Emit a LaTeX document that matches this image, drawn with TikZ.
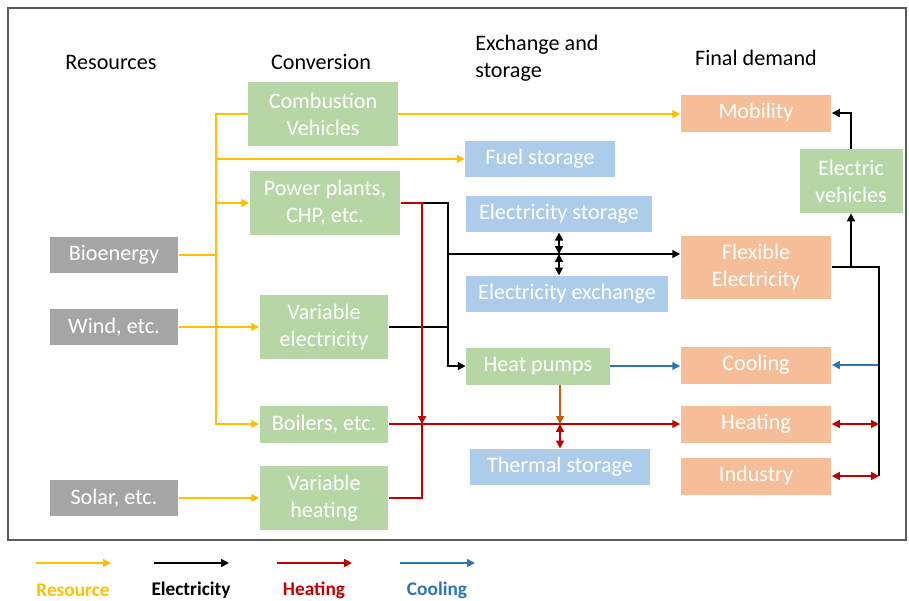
\documentclass[tikz,border=0pt]{standalone}
\usepackage{fontspec}
\setmainfont{Carlito}
\usepackage{tikz}
\usetikzlibrary{arrows.meta,calc}
\usepackage{xcolor}
\definecolor{res-gray}{RGB}{165,165,165}
\definecolor{conv-green}{RGB}{183,214,165}
\definecolor{store-blue}{RGB}{172,204,234}
\definecolor{dem-peach}{RGB}{245,190,152}
\definecolor{res-yellow}{RGB}{255,192,0}
\definecolor{heat-red}{RGB}{192,0,0}
\definecolor{cool-blue}{RGB}{46,117,182}
\definecolor{hp-orange}{RGB}{197,90,17}
\definecolor{frame-gray}{RGB}{90,90,90}
\tikzstyle{box}=[inner sep=0pt, text=white, align=center, font=\fontsize{12.6}{15.3}\selectfont]
\tikzstyle{resource}=[box, fill=res-gray, minimum width=2.58cm, minimum height=0.72cm]
\tikzstyle{conversion}=[box, fill=conv-green]
\tikzstyle{storage}=[box, fill=store-blue, minimum height=0.73cm]
\tikzstyle{demand}=[box, fill=dem-peach, minimum width=3.02cm, minimum height=0.74cm]
\tikzstyle{header}=[inner sep=0pt, font=\fontsize{12.6}{15.3}\selectfont]
\tikzstyle{link}=[line width=0.9pt, >={Triangle[length=4.5pt,width=4.5pt]}]
\tikzstyle{resline}=[link, res-yellow]
\tikzstyle{elline}=[link, black]
\tikzstyle{heatline}=[link, heat-red]
\tikzstyle{coolline}=[link, cool-blue]
\tikzstyle{hpline}=[link, hp-orange]

\begin{document}
\begin{tikzpicture}[x=0.02cm,y=-0.02cm]
	\useasboundingbox (0,0) rectangle (909,600);
	\draw[frame-gray, line width=1.1pt] (8,8) rectangle (906,540);
	% column titles
	\node[header] (hres) at (111,62) {Resources};
	\node[header] (hconv) at (321,62) {Conversion};
	\node[header, anchor=west, align=left] (hex) at (475,58) {Exchange and\\storage};
	\node[header] (hdem) at (756,58) {Final demand};
	% resources
	\node[resource] (bio) at (114,255) {Bioenergy};
	\node[resource] (wind) at (114,327) {Wind, etc.};
	\node[resource] (solar) at (114,498) {Solar, etc.};
	% conversion
	\node[conversion, minimum width=3.0cm, minimum height=1.28cm] (comb) at (323,114) {Combustion\\Vehicles};
	\node[conversion, minimum width=3.02cm, minimum height=1.28cm] (pp) at (325,203) {Power plants,\\CHP, etc.};
	\node[conversion, minimum width=2.58cm, minimum height=1.27cm] (varel) at (324,327) {Variable\\electricity};
	\node[conversion, minimum width=2.58cm, minimum height=0.74cm] (boil) at (324,424) {Boilers, etc.};
	\node[conversion, minimum width=2.58cm, minimum height=1.28cm] (varheat) at (324,498) {Variable\\heating};
	\node[conversion, minimum width=2.88cm, minimum height=0.74cm] (hp) at (538,366) {Heat pumps};
	\node[conversion, minimum width=2.06cm, minimum height=1.28cm] (ev) at (851,181) {Electric\\vehicles};
	% exchange and storage
	\node[storage, minimum width=3.0cm] (fuel) at (540,159) {Fuel storage};
	\node[storage, minimum width=3.72cm] (elstor) at (559,214) {Electricity storage};
	\node[storage, minimum width=4.04cm] (elex) at (567,294) {Electricity exchange};
	\node[storage, minimum width=3.6cm] (thstor) at (560,467) {Thermal storage};
	% final demand
	\node[demand] (mob) at (756,113) {Mobility};
	\node[demand, minimum height=1.26cm] (flex) at (756,267) {Flexible\\Electricity};
	\node[demand] (cool) at (756,365) {Cooling};
	\node[demand] (heat) at (756,424) {Heating};
	\node[demand] (ind) at (756,476) {Industry};
	% junctions
	\coordinate (ybus) at (216,424);
	\coordinate (hbus) at (422,424);
	\coordinate (ebus) at (448,254);
	\coordinate (rbus) at (879,267);
	\coordinate (ejunc) at (elstor.south |- ebus);
	\coordinate (tjunc) at (thstor.north |- heat.west);
	% resource flows
	\draw[resline,->] (comb.west) -| (ybus) -- (boil.west);
	\draw[resline] (bio.east) -- (bio.east -| ybus);
	\draw[resline,->] (fuel.west -| ybus) -- (fuel.west);
	\draw[resline,->] (pp.west -| ybus) -- (pp.west);
	\draw[resline,->] (wind.east) -- (varel.west);
	\draw[resline,->] (solar.east) -- (varheat.west);
	\draw[resline,->] (comb.east) -- (comb.east -| mob.west);
	% electricity flows
	\draw[elline,->] (pp.east -| hbus) -| (hp.west -| ebus) -- (hp.west);
	\draw[elline] (varel.east) -- (varel.east -| ebus);
	\draw[elline,->] (ebus) -- (ebus -| flex.west);
	\draw[elline,<->] (elstor.south) -- (ejunc);
	\draw[elline,<->] (ejunc) -- (ejunc |- elex.north);
	\draw[elline,->] (flex.east -| ev) -- (ev.south);
	\draw[elline,->] (ev.north) |- (mob.east);
	% heating and cooling flows
	\draw[heatline,->] (pp.east) -- (pp.east -| hbus) -- (hbus);
	\draw[heatline] (varheat.east) -| (hbus);
	\draw[heatline,->] (boil.east) -- (heat.west);
	\draw[hpline,->] (hp.south -| tjunc) -- (tjunc);
	\draw[heatline,<->] (tjunc) -- (thstor.north);
	\draw[coolline,->] (hp.east) -- (hp.east -| cool.west);
	\draw[coolline,->] (cool.east -| rbus) -- (cool.east);
	\draw[heatline,<->] (heat.east -| rbus) -- (heat.east);
	\draw[heatline,<->] (ind.east -| rbus) -- (ind.east);
	\draw[elline] (flex.east) -- (rbus) -- (rbus |- ind.east);
	% legend
	\foreach \x/\col/\lab in {73/res-yellow/Resource, 191/black/Electricity, 314/heat-red/Heating, 437/cool-blue/Cooling}{
		\coordinate (leg\lab a) at (\x-37,563);
		\coordinate (leg\lab b) at (\x+38,563);
		\draw[link,\col,->] (leg\lab a) -- (leg\lab b);
		\node[header, text=\col, font=\fontsize{11}{13}\selectfont\bfseries] (lab\lab) at (\x,590) {\lab};
	}
\end{tikzpicture}
\end{document}
